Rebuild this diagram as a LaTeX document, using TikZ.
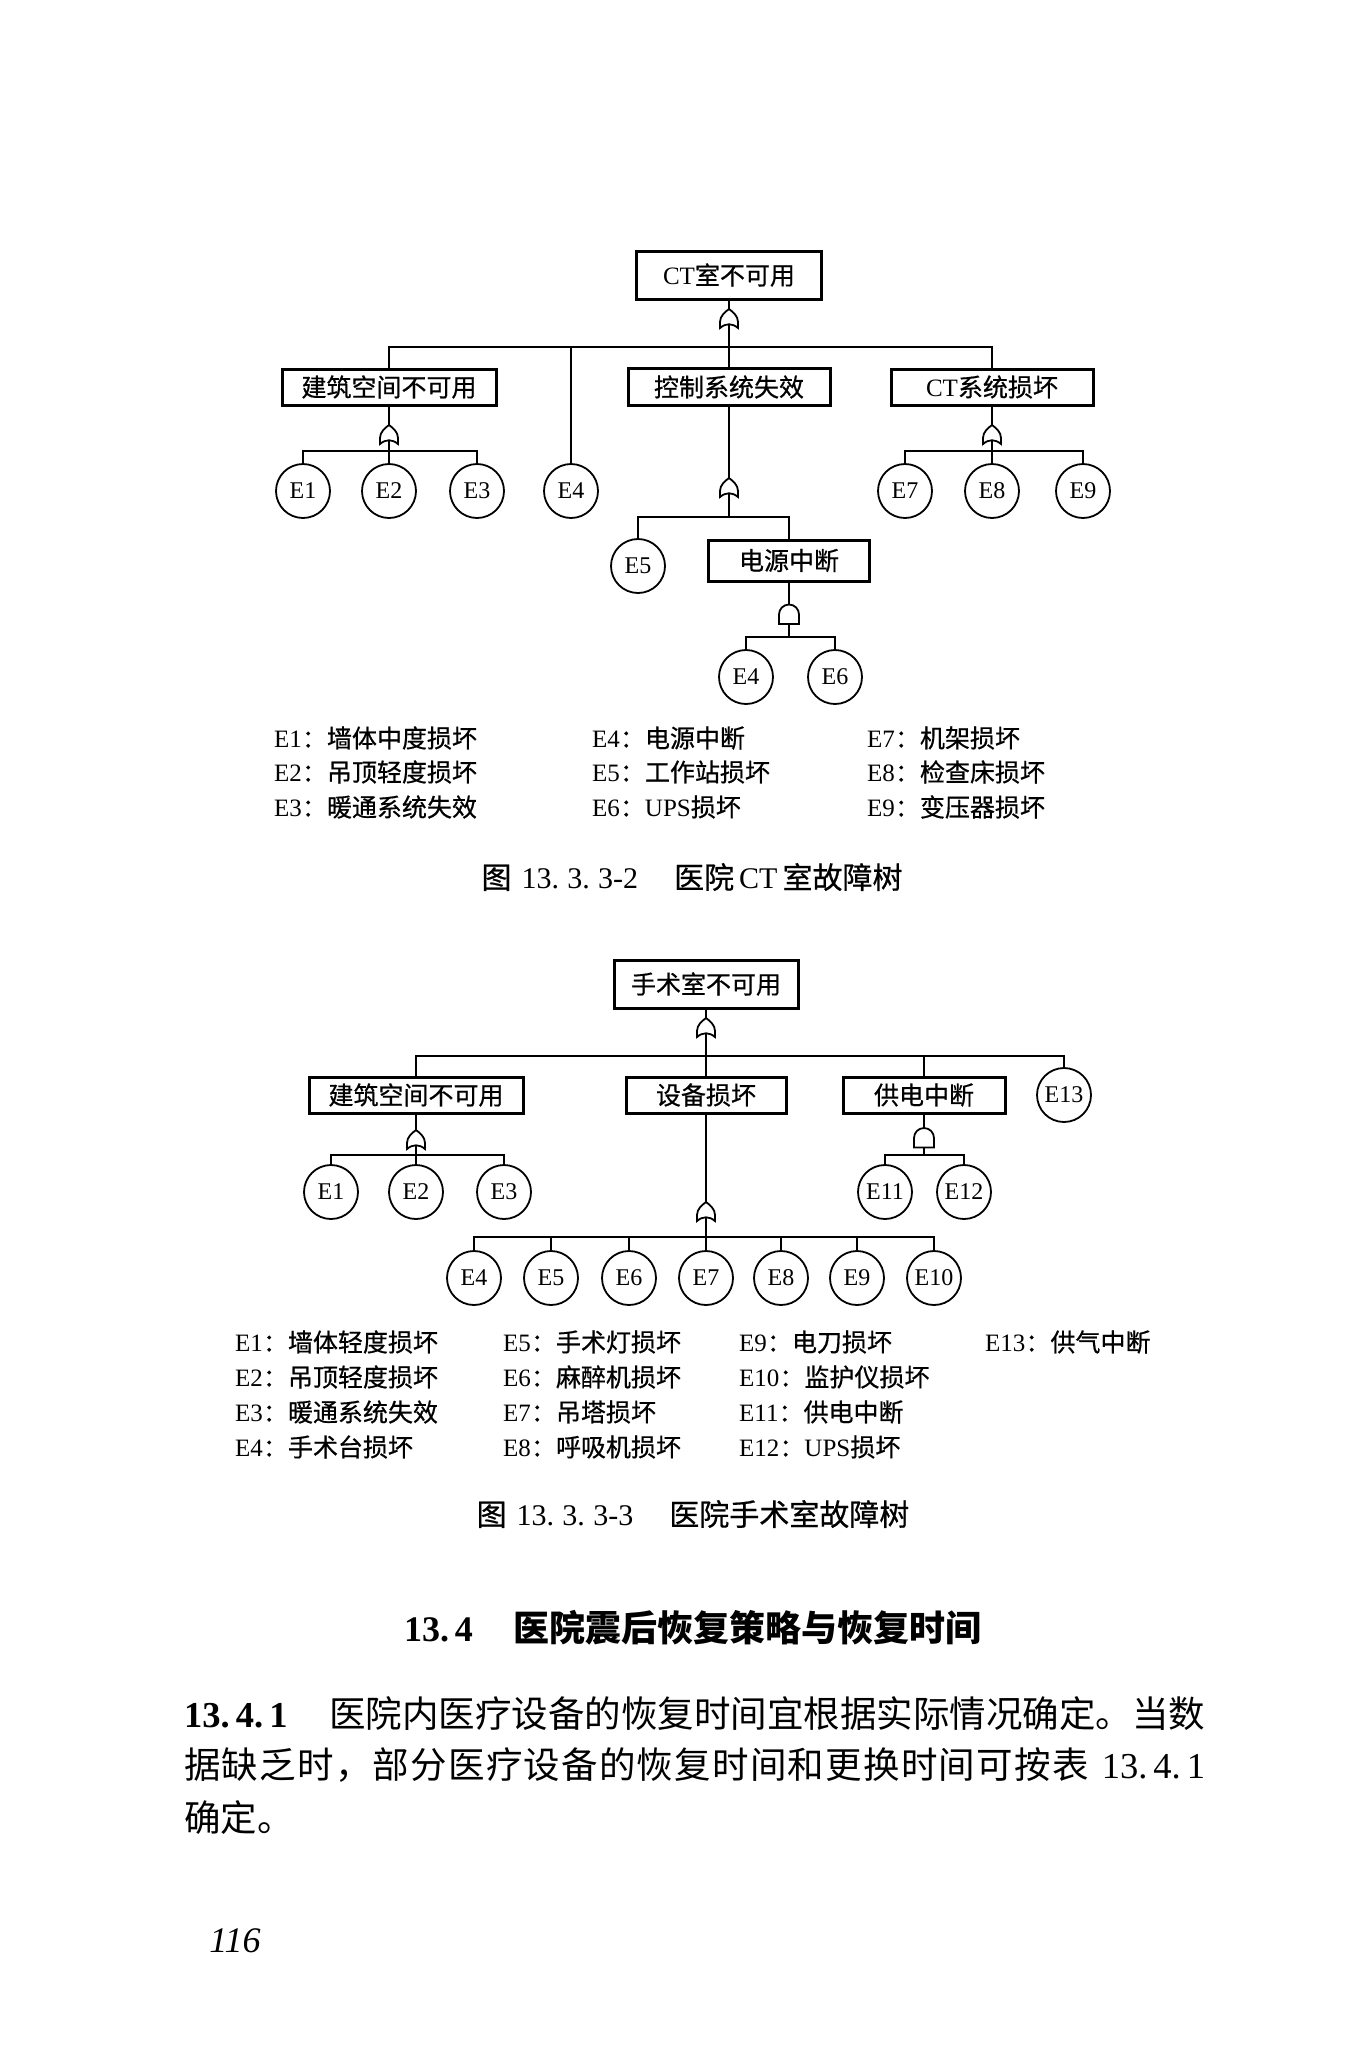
\documentclass[tikz,border=0pt]{standalone}
\usepackage{fontspec}
\setmainfont{Liberation Serif}
\newfontfamily\cjk[FakeBold=0.6]{Noto Sans CJK SC}
\newfontfamily\cjkbody{Noto Sans CJK SC}
\newcommand{\zh}[1]{{\cjk #1}}
\newcommand{\zhb}[1]{{\cjkbody #1}}
\newcommand\spreadchars[1]{\spreadloop#1\relax}
\def\spreadloop#1{\ifx#1\relax\else #1\hskip 0pt plus 1fil\expandafter\spreadloop\fi}
\usetikzlibrary{backgrounds}
\begin{document}
\begin{tikzpicture}[x=1pt,y=-1pt,
  box/.style={draw, line width=3pt, fill=white, inner sep=0pt, font=\fontsize{25}{25}\selectfont},
  ev/.style={draw, circle, line width=1.8pt, fill=white, minimum size=54pt, inner sep=0pt, font=\fontsize{24}{24}\selectfont},
  conn/.style={line width=2pt},
  leg/.style={anchor=west, inner sep=0pt, font=\fontsize{25}{25}\selectfont},
  captxt/.style={inner sep=0pt, font=\fontsize{30}{30}\selectfont},
  para/.style={anchor=west, inner sep=0pt, font=\fontsize{36.5}{36.5}\selectfont},
  orgate/.pic={\draw[line width=1.8pt, fill=white] (-9pt,-9pt) .. controls (-3pt,-4pt) and (3pt,-4pt) .. (9pt,-9pt) -- (9pt,-3pt) .. controls (9pt,3pt) and (4pt,7pt) .. (0pt,10pt) .. controls (-4pt,7pt) and (-9pt,3pt) .. (-9pt,-3pt) -- cycle;},
  andgate/.pic={\draw[line width=1.8pt, fill=white] (-10pt,-9.5pt) -- (10pt,-9.5pt) -- (10pt,0pt) .. controls (10pt,5.5pt) and (5.5pt,10pt) .. (0pt,10pt) .. controls (-5.5pt,10pt) and (-10pt,5.5pt) .. (-10pt,0pt) -- cycle;}
]
\useasboundingbox (0,0) rectangle (1355,2048);
\begin{scope}[on background layer]
  \fill[white] (0,0) rectangle (1355,2048);
\end{scope}

% ---------------- Tree 1 ----------------
\node[box, minimum width=185pt, minimum height=48pt] (T1) at (729,275) {CT\zh{室不可用}};
\path (729,319) coordinate (g1) pic {orgate};
\coordinate (b1) at (729,347);
\node[box, minimum width=214pt, minimum height=36pt] (A1) at (389,387) {\zh{建筑空间不可用}};
\node[ev] (E4a) at (571,491) {E4};
\node[box, minimum width=202pt, minimum height=37pt] (B1) at (729,387) {\zh{控制系统失效}};
\node[box, minimum width=202pt, minimum height=36pt] (C1) at (992,387) {CT\zh{系统损坏}};

\path (389,435) coordinate (gA1) pic {orgate};
\coordinate (bA1) at (389,451);
\node[ev] (E1a) at (303,491) {E1};
\node[ev] (E2a) at (389,491) {E2};
\node[ev] (E3a) at (477,491) {E3};

\path (729,488) coordinate (gB1) pic {orgate};
\coordinate (bB1) at (729,517);
\node[ev] (E5a) at (638,566) {E5};
\node[box, minimum width=161pt, minimum height=41pt] (D1) at (789,560.5) {\zh{电源中断}};
\path (789,614.5) coordinate (gD1) pic {andgate};
\coordinate (bD1) at (789,637);
\node[ev] (E4b) at (746,677) {E4};
\node[ev] (E6a) at (835,677) {E6};

\path (992,435) coordinate (gC1) pic {orgate};
\coordinate (bC1) at (992,451);
\node[ev] (E7a) at (905,491) {E7};
\node[ev] (E8a) at (992,491) {E8};
\node[ev] (E9a) at (1083,491) {E9};

% legend 1
\node[leg] (L11) at (274,738) {E1\zh{：墙体中度损坏}};
\node[leg] (L12) at (274,772) {E2\zh{：吊顶轻度损坏}};
\node[leg] (L13) at (274,807) {E3\zh{：暖通系统失效}};
\node[leg] (L14) at (592,738) {E4\zh{：电源中断}};
\node[leg] (L15) at (592,772) {E5\zh{：工作站损坏}};
\node[leg] (L16) at (592,807) {E6\zh{：}UPS\zh{损坏}};
\node[leg] (L17) at (867,738) {E7\zh{：机架损坏}};
\node[leg] (L18) at (867,772) {E8\zh{：检查床损坏}};
\node[leg] (L19) at (867,807) {E9\zh{：变压器损坏}};
\node[captxt] (cap1) at (692,877) {\zh{图}\hspace{10pt}13.\;3.\;3-2\hspace{36pt}\zh{医院}\,CT\,\zh{室故障树}};

% ---------------- Tree 2 ----------------
\node[box, minimum width=184pt, minimum height=48pt] (T2) at (706,984) {\zh{手术室不可用}};
\path (706,1028) coordinate (g2) pic {orgate};
\coordinate (b2) at (706,1056);
\node[box, minimum width=214pt, minimum height=36pt] (A2) at (416,1095) {\zh{建筑空间不可用}};
\node[box, minimum width=160pt, minimum height=36pt] (B2) at (706,1095) {\zh{设备损坏}};
\node[box, minimum width=162pt, minimum height=36pt] (C2) at (924,1095) {\zh{供电中断}};
\node[ev] (E13b) at (1064,1095) {E13};

\path (416,1140) coordinate (gA2) pic {orgate};
\coordinate (bA2) at (416,1155);
\node[ev] (E1b) at (331,1192) {E1};
\node[ev] (E2b) at (416,1192) {E2};
\node[ev] (E3b) at (504,1192) {E3};

\path (706,1212) coordinate (gB2) pic {orgate};
\coordinate (bB2) at (706,1237);
\node[ev] (E4c) at (474,1278) {E4};
\node[ev] (E5c) at (551,1278) {E5};
\node[ev] (E6c) at (629,1278) {E6};
\node[ev] (E7c) at (706,1278) {E7};
\node[ev] (E8c) at (781,1278) {E8};
\node[ev] (E9c) at (857,1278) {E9};
\node[ev] (E10c) at (934,1278) {E10};

\path (924,1138) coordinate (gC2) pic {andgate};
\coordinate (bC2) at (924,1155);
\node[ev] (E11b) at (885,1192) {E11};
\node[ev] (E12b) at (964,1192) {E12};

% legend 2
\node[leg] (L21) at (235,1342) {E1\zh{：墙体轻度损坏}};
\node[leg] (L22) at (235,1377) {E2\zh{：吊顶轻度损坏}};
\node[leg] (L23) at (235,1412) {E3\zh{：暖通系统失效}};
\node[leg] (L24) at (235,1447) {E4\zh{：手术台损坏}};
\node[leg] (L25) at (503,1342) {E5\zh{：手术灯损坏}};
\node[leg] (L26) at (503,1377) {E6\zh{：麻醉机损坏}};
\node[leg] (L27) at (503,1412) {E7\zh{：吊塔损坏}};
\node[leg] (L28) at (503,1447) {E8\zh{：呼吸机损坏}};
\node[leg] (L29) at (739,1342) {E9\zh{：电刀损坏}};
\node[leg] (L210) at (739,1377) {E10\zh{：监护仪损坏}};
\node[leg] (L211) at (739,1412) {E11\zh{：供电中断}};
\node[leg] (L212) at (739,1447) {E12\zh{：}UPS\zh{损坏}};
\node[leg] (L213) at (985,1342) {E13\zh{：供气中断}};
\node[captxt] (cap2) at (693,1514) {\zh{图}\hspace{10pt}13.\;3.\;3-3\hspace{36pt}\zh{医院手术室故障树}};

% ---------------- Text ----------------
\node[inner sep=0pt, font=\fontsize{36}{36}\selectfont\bfseries] (head) at (692.5,1628) {13.\,4\hspace{40pt}{\cjkbody 医院震后恢复策略与恢复时间}};
\node[para] (P1) at (184,1714) {\makebox[1021pt][s]{\textbf{13.\,4.\,1}\hspace{40pt plus 10pt}\zhb{医院内医疗设备的恢复时间宜根据实际情况确定。当数}}};
\node[para] (P2) at (184,1765) {\makebox[1021pt][s]{\zhb{\spreadchars{据缺乏时，部分医疗设备的恢复时间和更换时间可按表}}\hspace{12pt}13.\,4.\,1}};
\node[para] (P3) at (184,1818) {\zhb{确定。}};
\node[inner sep=0pt, font=\fontsize{36}{36}\selectfont\itshape] (pg) at (235,1941) {116};

% ---------------- Connectors ----------------
\begin{scope}[on background layer]
  \draw[conn] (T1.south) -- (g1) -- (b1);
  \draw[conn] (b1) -| (A1.north);
  \draw[conn] (b1) -| (E4a.north);
  \draw[conn] (b1) -- (B1.north);
  \draw[conn] (b1) -| (C1.north);
  \draw[conn] (A1.south) -- (gA1) -- (bA1);
  \draw[conn] (bA1) -| (E1a.north);
  \draw[conn] (bA1) -- (E2a.north);
  \draw[conn] (bA1) -| (E3a.north);
  \draw[conn] (B1.south) -- (gB1) -- (bB1);
  \draw[conn] (bB1) -| (E5a.north);
  \draw[conn] (bB1) -| (D1.north);
  \draw[conn] (D1.south) -- (gD1) -- (bD1);
  \draw[conn] (bD1) -| (E4b.north);
  \draw[conn] (bD1) -| (E6a.north);
  \draw[conn] (C1.south) -- (gC1) -- (bC1);
  \draw[conn] (bC1) -| (E7a.north);
  \draw[conn] (bC1) -- (E8a.north);
  \draw[conn] (bC1) -| (E9a.north);

  \draw[conn] (T2.south) -- (g2) -- (b2);
  \draw[conn] (b2) -| (A2.north);
  \draw[conn] (b2) -- (B2.north);
  \draw[conn] (b2) -| (C2.north);
  \draw[conn] (b2) -| (E13b.north);
  \draw[conn] (A2.south) -- (gA2) -- (bA2);
  \draw[conn] (bA2) -| (E1b.north);
  \draw[conn] (bA2) -- (E2b.north);
  \draw[conn] (bA2) -| (E3b.north);
  \draw[conn] (B2.south) -- (gB2) -- (bB2);
  \draw[conn] (bB2) -| (E4c.north);
  \draw[conn] (bB2) -| (E5c.north);
  \draw[conn] (bB2) -| (E6c.north);
  \draw[conn] (bB2) -- (E7c.north);
  \draw[conn] (bB2) -| (E8c.north);
  \draw[conn] (bB2) -| (E9c.north);
  \draw[conn] (bB2) -| (E10c.north);
  \draw[conn] (C2.south) -- (gC2) -- (bC2);
  \draw[conn] (bC2) -| (E11b.north);
  \draw[conn] (bC2) -| (E12b.north);
\end{scope}
\end{tikzpicture}
\end{document}
